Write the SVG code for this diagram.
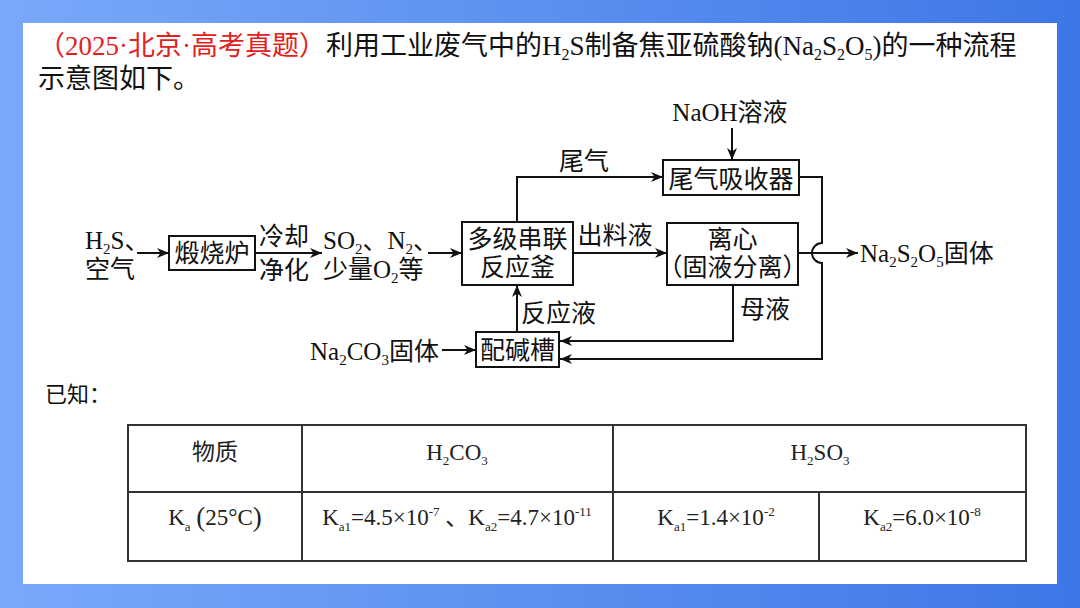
<svg xmlns="http://www.w3.org/2000/svg" width="1080" height="608" viewBox="0 0 1080 608">
<defs>
<linearGradient id="bg" x1="0" y1="0" x2="1" y2="0">
<stop offset="0" stop-color="#7aa9fb"/>
<stop offset="1" stop-color="#3d77e6"/>
</linearGradient>
<marker id="ah" viewBox="0 0 12 10" refX="12" refY="5" markerWidth="13" markerHeight="10" markerUnits="userSpaceOnUse" orient="auto">
<path d="M0,0 L12,5 L0,10 L3.5,5 z" fill="#111"/>
</marker>
<style>
.t{font-family:'Liberation Serif','Noto Sans CJK SC',serif;fill:#111}
.title{font-size:27px}
.red{fill:#e3201b}
.f{font-size:25px}
.tb{font-size:23px;fill:#222}
.box{fill:#fff;stroke:#111;stroke-width:2}
.ln{fill:none;stroke:#111;stroke-width:2}
.arr{fill:none;stroke:#111;stroke-width:2;marker-end:url(#ah)}
.grid{fill:none;stroke:#333;stroke-width:2}
.c{text-anchor:middle}
</style>
</defs>
<rect x="0" y="0" width="1080" height="608" fill="url(#bg)"/>
<rect x="23" y="23" width="1034" height="561" fill="#fff"/>

<g id="title">
<text class="t title" x="38" y="55"><tspan class="red">（2025·北京·高考真题）</tspan>利用工业废气中的H<tspan font-size="16" dy="5">2</tspan><tspan dy="-5">S制备焦亚硫酸钠(Na</tspan><tspan font-size="16" dy="5">2</tspan><tspan dy="-5">S</tspan><tspan font-size="16" dy="5">2</tspan><tspan dy="-5">O</tspan><tspan font-size="16" dy="5">5</tspan><tspan dy="-5">)的一种流程</tspan></text>
<text class="t title" x="38" y="88">示意图如下。</text>
</g>

<g id="connectors">
<line class="arr" x1="137" y1="253" x2="169" y2="253"/>
<line class="arr" x1="255" y1="253" x2="322" y2="253"/>
<line class="arr" x1="428" y1="253" x2="462" y2="253"/>
<line class="arr" x1="573" y1="253" x2="667" y2="253"/>
<polyline class="arr" points="517,222 517,177 663,177"/>
<line class="arr" x1="732" y1="128" x2="732" y2="160"/>
<line class="arr" x1="798" y1="253" x2="858" y2="253"/>
<path class="arr" d="M799,177 H822 V243 A10,10 0 0 0 822,263 V359 H560"/>
<polyline class="arr" points="733,285 733,341 560,341"/>
<line class="arr" x1="517" y1="332" x2="517" y2="285"/>
<line class="arr" x1="442" y1="350" x2="476" y2="350"/>
</g>

<g id="label-feed">
<text class="t f" x="85" y="249">H<tspan font-size="15" dy="5">2</tspan><tspan dy="-5">S、</tspan></text>
<text class="t f" x="85" y="278">空气</text>
</g>

<g id="node-furnace">
<rect class="box" x="169" y="236" width="86" height="34"/>
<text class="t f c" x="212" y="262">煅烧炉</text>
</g>

<g id="label-cool">
<text class="t f c" x="284" y="245">冷却</text>
<text class="t f c" x="284" y="279">净化</text>
</g>

<g id="label-gas">
<text class="t f" x="323" y="249">SO<tspan font-size="15" dy="5">2</tspan><tspan dy="-5">、N</tspan><tspan font-size="15" dy="5">2</tspan><tspan dy="-5">、</tspan></text>
<text class="t f" x="323" y="278">少量O<tspan font-size="15" dy="5">2</tspan><tspan dy="-5">等</tspan></text>
</g>

<g id="node-reactor">
<rect class="box" x="462" y="222" width="111" height="63"/>
<text class="t f c" x="517.5" y="248">多级串联</text>
<text class="t f c" x="517.5" y="276">反应釜</text>
</g>

<g id="label-tailgas">
<text class="t f c" x="584" y="170">尾气</text>
</g>

<g id="label-naoh">
<text class="t f c" x="730" y="121">NaOH溶液</text>
</g>

<g id="node-absorber">
<rect class="box" x="663" y="160" width="136" height="35"/>
<text class="t f c" x="731" y="188">尾气吸收器</text>
</g>

<g id="label-outflow">
<text class="t f c" x="615" y="244">出料液</text>
</g>

<g id="node-centrifuge">
<rect class="box" x="667" y="223" width="131" height="62"/>
<text class="t f c" x="732.5" y="248">离心</text>
<text class="t f c" x="732.5" y="276">（固液分离）</text>
</g>

<g id="label-product">
<text class="t f" x="860" y="262">Na<tspan font-size="15" dy="5">2</tspan><tspan dy="-5">S</tspan><tspan font-size="15" dy="5">2</tspan><tspan dy="-5">O</tspan><tspan font-size="15" dy="5">5</tspan><tspan dy="-5">固体</tspan></text>
</g>

<g id="label-mother">
<text class="t f" x="740" y="318">母液</text>
</g>

<g id="label-reactliquid">
<text class="t f" x="521" y="322">反应液</text>
</g>

<g id="label-na2co3">
<text class="t f" x="310" y="360">Na<tspan font-size="15" dy="5">2</tspan><tspan dy="-5">CO</tspan><tspan font-size="15" dy="5">3</tspan><tspan dy="-5">固体</tspan></text>
</g>

<g id="node-alkali">
<rect class="box" x="476" y="332" width="83" height="35"/>
<text class="t f c" x="517.5" y="359">配碱槽</text>
</g>

<g id="known">
<text class="t" x="45" y="402" font-size="22" fill="#333">已知：</text>
</g>

<g id="table">
<rect class="grid" x="128" y="425" width="898" height="136"/>
<line class="grid" x1="128" y1="492" x2="1026" y2="492"/>
<line class="grid" x1="302" y1="425" x2="302" y2="561"/>
<line class="grid" x1="613" y1="425" x2="613" y2="561"/>
<line class="grid" x1="819" y1="492" x2="819" y2="561"/>
<text class="t tb c" x="215" y="460">物质</text>
<text class="t tb c" x="457" y="460">H<tspan font-size="13" dy="5">2</tspan><tspan dy="-5">CO</tspan><tspan font-size="13" dy="5">3</tspan></text>
<text class="t tb c" x="820" y="460">H<tspan font-size="13" dy="5">2</tspan><tspan dy="-5">SO</tspan><tspan font-size="13" dy="5">3</tspan></text>
<text class="t tb c" x="215" y="525">K<tspan font-size="13" dy="6">a</tspan><tspan dy="-6"> </tspan><tspan font-size="27" dy="1">(</tspan><tspan dy="-1">25°C</tspan><tspan font-size="27" dy="1">)</tspan></text>
<text class="t tb c" x="457" y="525">K<tspan font-size="13" dy="6">a1</tspan><tspan dy="-6">=4.5×10</tspan><tspan font-size="13" dy="-9">-7</tspan><tspan dy="9"> 、K</tspan><tspan font-size="13" dy="6">a2</tspan><tspan dy="-6">=4.7×10</tspan><tspan font-size="13" dy="-9">-11</tspan></text>
<text class="t tb c" x="716" y="525">K<tspan font-size="13" dy="6">a1</tspan><tspan dy="-6">=1.4×10</tspan><tspan font-size="13" dy="-9">-2</tspan></text>
<text class="t tb c" x="922" y="525">K<tspan font-size="13" dy="6">a2</tspan><tspan dy="-6">=6.0×10</tspan><tspan font-size="13" dy="-9">-8</tspan></text>
</g>
</svg>
